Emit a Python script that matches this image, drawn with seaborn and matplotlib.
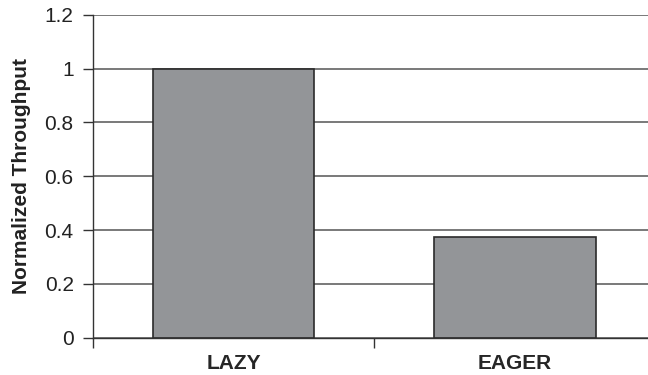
import numpy as np
import pandas as pd
import seaborn as sns
from matplotlib import pyplot as plt

sns.set_theme(style='white')
plt.rcParams['font.family'] = ['Liberation Sans', 'DejaVu Sans']

categories = ['LAZY', 'EAGER']
throughput = [1.0, 0.373]
yticks = [0, 0.2, 0.4, 0.6, 0.8, 1.0, 1.2]
ytick_labels = ['0', '0.2', '0.4', '0.6', '0.8', '1', '1.2']

df = pd.DataFrame({'mode': categories, 'value': throughput})

fig = plt.figure(figsize=(6.48, 3.75), dpi=100)
ax = fig.add_axes([0.143, 0.0995, 0.869, 0.861])

sns.barplot(data=df, x='mode', y='value', color='#939598', saturation=1,
            width=0.572, edgecolor='#2b2b2b', linewidth=1.2, ax=ax)

ax.set_ylim(0, 1.2)
ax.set_xlim(-0.5, 1.5)
ax.set_yticks(yticks, labels=ytick_labels)
ax.yaxis.grid(True, color='#555555', linewidth=1.1)
ax.set_axisbelow(True)

# category boundaries get the tick marks, names sit between them
ax.set_xticks([-0.5, 0.5, 1.5], labels=['', '', ''])
ax.set_xticks([0, 1], labels=categories, minor=True)
ax.tick_params(axis='x', which='major', direction='out', length=7.4,
               width=1, color='#333333', bottom=True)
ax.tick_params(axis='x', which='minor', length=0, pad=12, labelsize=15)
for lbl in ax.get_xticklabels(minor=True):
    lbl.set_fontweight('bold')
ax.tick_params(axis='y', direction='out', length=7.4, width=1,
               color='#333333', left=True, pad=6.3, labelsize=15,
               labelcolor='#222222')

for s in ['top', 'right']:
    ax.spines[s].set_visible(False)
ax.spines['left'].set_color('#333333')
ax.spines['bottom'].set_color('#333333')
ax.spines['left'].set_linewidth(1)
ax.spines['bottom'].set_linewidth(1)

ax.set_xlabel('')
ax.set_ylabel('Normalized Throughput', fontsize=15, fontweight='bold',
              color='#222222')
ax.yaxis.set_label_coords(-0.11, 0.5)

fig.savefig('out.png', dpi=100)
